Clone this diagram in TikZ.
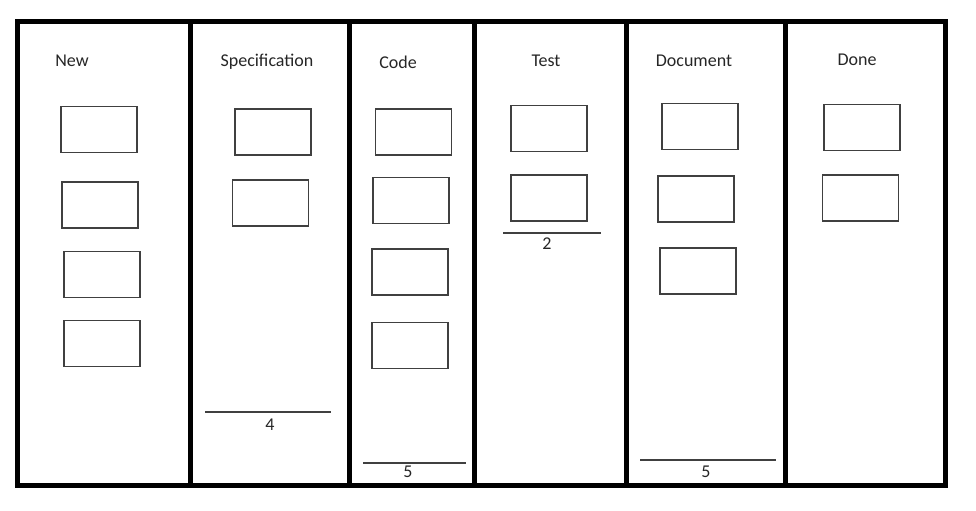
\documentclass[tikz,border=0pt]{standalone}
\usepackage{fontspec}
\setmainfont{Carlito}
\begin{document}
\begin{tikzpicture}[x=0.75pt, y=-0.75pt, font=\fontsize{13.5}{16}\selectfont]
            \useasboundingbox (0,0) rectangle (976,511);
            \def\frame{3.75pt}
            \tikzset{mycard/.style={rectangle, draw=black!75, line width=0.8pt, minimum width=57pt, minimum height=34.5pt, inner sep=0pt},
                mytitle/.style={anchor=base, text=black!85},
                mycount/.style={anchor=base, text=black!85},
                mylimit/.style={draw=black!75, line width=0.8pt}}

        % board and columns
        \draw[line width=\frame] (17,21) rectangle (945,485);
        \foreach \x in {190.5, 349.5, 474.5, 626.5, 785.5}
            \draw[line width=\frame] (\x,21) -- (\x,485);

        \node[mytitle] (tnew) at (72,66) {New};
        \node[mytitle] (tspec) at (267,66) {Specification};
        \node[mytitle] (tcode) at (398,68) {Code};
        \node[mytitle] (ttest) at (546,66) {Test};
        \node[mytitle] (tdoc) at (694,66) {Document};
        \node[mytitle] (tdone) at (857,65) {Done};

        \node[mycard] (new1) at (99,129.5) {};
        \node[mycard] (new2) at (100,205) {};
        \node[mycard] (new3) at (102,274.5) {};
        \node[mycard] (new4) at (102,343.5) {};

        \node[mycard] (spec1) at (273,132) {};
        \node[mycard] (spec2) at (270.5,203) {};

        \node[mycard] (code1) at (413.5,132) {};
        \node[mycard] (code2) at (411,200.5) {};
        \node[mycard] (code3) at (410,272) {};
        \node[mycard] (code4) at (410,345.5) {};

        \node[mycard] (test1) at (549,128.5) {};
        \node[mycard] (test2) at (549,198) {};

        \node[mycard] (doc1) at (700,126.5) {};
        \node[mycard] (doc2) at (696,199) {};
        \node[mycard] (doc3) at (698,271) {};

        \node[mycard] (done1) at (862,127.5) {};
        \node[mycard] (done2) at (860.5,198) {};

        % work in progress limits
        \coordinate (specl) at (205,412);  \coordinate (specr) at (331,412);
        \coordinate (codel) at (363,463);  \coordinate (coder) at (466,463);
        \coordinate (testl) at (503,233);  \coordinate (testr) at (601,233);
        \coordinate (docl) at (640,460);   \coordinate (docr) at (776,460);
        \draw[mylimit] (specl) -- (specr);
        \draw[mylimit] (codel) -- (coder);
        \draw[mylimit] (testl) -- (testr);
        \draw[mylimit] (docl) -- (docr);

        \node[mycount] (nspec) at (270,430.5) {4};
        \node[mycount] (ncode) at (408,477) {5};
        \node[mycount] (ntest) at (547,249) {2};
        \node[mycount] (ndoc) at (706,477) {5};

        \end{tikzpicture}
\end{document}
